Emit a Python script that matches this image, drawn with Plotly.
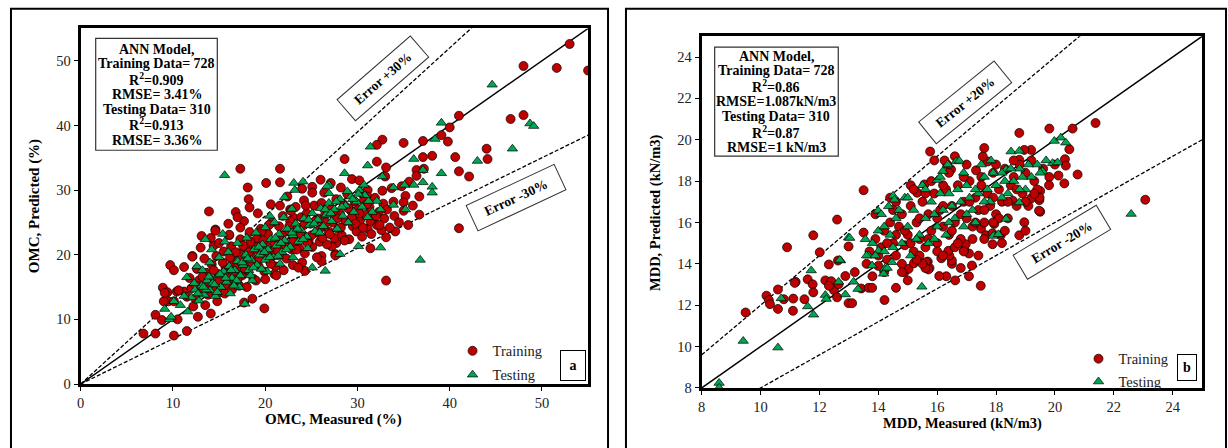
import plotly.graph_objects as go

W, H = 1228, 448

# ---------------- Panel (a): OMC ----------------
omc_train_x = [53.0, 48.0, 51.6, 55.0, 41.0, 46.6, 48.0, 40.0, 39.1, 39.8, 32.7, 32.1, 35.0, 37.1, 28.6, 32.1,
               37.1, 38.1, 40.6, 44.0, 44.1, 41.0, 42.1, 33.1, 36.4, 36.7, 36.7, 25.1, 25.1, 41.0, 33.1, 34.1,
               33.1, 31.4, 27.6, 27.7, 27.2, 26.1, 26.1, 24.3, 37.2, 36.4, 35.6, 34.8, 33.0, 33.7, 32.7, 35.2,
               35.0, 33.9, 32.8, 31.1, 31.1, 30.5, 29.4, 30.2, 17.3, 21.6, 20.1, 21.6, 18.1, 18.2, 18.3, 13.9,
               13.1, 12.1, 14.6, 14.4, 16.1, 17.7, 17.3, 21.6, 22.7, 23.1, 24.2, 27.1, 27.6, 9.7, 10.1, 11.2,
               8.9, 9.4, 9.5, 10.4, 11.2, 9.0, 10.1, 8.1, 6.8, 8.1, 8.8, 10.5, 10.1, 11.5, 12.7, 14.1,
               19.9, 9.1, 10.6, 12.1, 13.0, 14.1, 14.6, 16.1, 18.6, 17.7,
               11.5, 12.0, 12.4, 12.8, 13.0, 13.3, 13.6, 13.8, 14.0, 14.2, 14.5, 14.7, 14.9, 15.1, 15.3, 15.5,
               15.7, 15.9, 16.1, 16.3, 16.5, 16.7, 16.9, 17.1, 17.3, 17.5, 17.7, 17.9, 18.1, 18.3, 18.5, 18.7,
               18.9, 19.1, 19.3, 19.5, 19.7, 19.9, 20.1, 20.3, 20.5, 20.7, 20.9, 21.1, 21.3, 21.5, 21.7, 21.9,
               22.1, 22.3, 22.5, 22.7, 22.9, 23.1, 23.3, 23.5, 23.7, 23.9, 24.1, 24.3, 24.5, 24.7, 24.9, 25.1,
               25.3, 25.5, 25.7, 25.9, 26.1, 26.3, 26.5, 26.7, 26.9, 27.1, 27.3, 27.5, 27.7, 27.9, 28.1, 28.3,
               28.5, 28.7, 28.9, 29.1, 29.3, 29.5, 29.7, 29.9, 30.1, 30.3, 30.5, 30.7, 30.9, 31.1, 31.3, 31.5,
               31.7, 31.9, 32.1, 32.3, 32.6, 32.9, 33.2, 33.5, 34.0, 34.5, 35.0, 35.5, 36.0, 13.5, 14.8, 15.6,
               16.4, 17.2, 18.0, 19.0, 20.0, 21.0, 22.0, 23.0, 24.0, 12.2, 11.8, 12.6, 13.4, 15.0, 16.0, 16.8,
               17.0, 19.2, 20.6, 22.4, 24.0, 26.0, 28.2,
               12.5, 13.2, 13.9, 14.4, 15.0, 15.4, 15.8, 16.2, 16.6, 17.0, 17.4, 17.8, 18.2, 18.6, 19.0, 19.4,
               19.8, 20.2, 20.6, 21.0, 21.4, 21.8, 22.2, 22.6, 23.0, 23.4, 23.8, 24.2, 24.6, 25.0, 25.4, 25.8,
               26.2, 26.6, 27.0, 27.4, 27.8, 28.2, 28.6, 29.0, 29.4, 29.8, 30.2, 30.6, 31.0, 31.4, 32.0, 32.4,
               20.4, 19.6, 18.4, 17.6, 16.8, 22.8, 24.4, 26.4, 21.2, 23.6, 25.6]
omc_train_y = [52.6, 49.2, 48.9, 48.5, 41.5, 41.0, 41.6, 39.7, 38.5, 37.5, 37.8, 37.0, 37.3, 37.6, 34.8, 34.4,
               35.1, 35.3, 35.1, 36.4, 34.8, 32.9, 32.1, 33.5, 33.1, 29.0, 26.2, 30.5, 29.6, 24.1, 16.0, 23.6,
               22.7, 21.0, 20.1, 21.8, 21.3, 19.8, 19.0, 17.5, 33.3, 32.2, 31.3, 30.6, 32.1, 30.3, 29.9, 29.1,
               28.1, 28.2, 27.9, 30.0, 29.0, 29.5, 31.7, 31.5, 33.3, 33.3, 31.1, 31.2, 30.4, 28.6, 27.3, 26.7,
               22.9, 19.8, 23.9, 21.4, 23.0, 25.2, 24.2, 27.6, 27.0, 25.7, 28.4, 31.1, 19.9, 18.4, 17.6, 18.1,
               14.9, 14.2, 12.8, 14.3, 14.3, 12.8, 12.8, 10.7, 7.8, 7.8, 9.9, 10.0, 7.5, 8.2, 10.4, 10.9,
               11.7, 14.1, 14.5, 19.7, 21.1, 22.6, 23.7, 23.1, 13.2, 12.6,
               13.5, 14.8, 13.2, 16.0, 14.2, 15.5, 17.2, 13.8, 16.2, 18.5, 15.0, 19.8, 17.0, 14.2, 16.4, 20.5,
               18.0, 15.3, 17.2, 21.3, 19.0, 15.8, 18.0, 20.2, 22.4, 16.8, 19.0, 21.0, 17.6, 23.5, 19.6, 16.3,
               20.8, 22.5, 18.2, 24.0, 20.0, 17.4, 21.4, 23.2, 19.0, 25.0, 20.6, 18.2, 22.4, 24.4, 20.0, 26.0,
               21.6, 19.4, 23.6, 25.2, 20.8, 22.4, 27.4, 24.2, 21.0, 25.8, 23.0, 20.2, 26.4, 22.2, 24.8, 21.2,
               27.6, 23.4, 25.6, 22.0, 28.0, 24.4, 26.2, 21.6, 23.6, 27.0, 25.0, 22.6, 28.6, 24.0, 26.4, 23.0,
               27.8, 25.2, 29.4, 22.4, 26.8, 24.4, 28.2, 23.6, 27.0, 25.4, 22.8, 28.4, 26.2, 24.0, 27.4, 23.2,
               25.8, 28.8, 24.6, 26.6, 23.8, 25.6, 27.0, 24.2, 26.0, 25.0, 26.8, 24.6, 27.6, 12.2, 12.8, 14.0,
               14.6, 15.2, 15.0, 16.0, 16.2, 17.0, 17.6, 18.4, 18.8, 12.0, 16.4, 17.8, 19.4, 21.8, 24.8, 26.6,
               25.8, 26.4, 27.8, 29.0, 30.2, 31.6, 30.4,
               15.2, 16.6, 15.4, 17.6, 16.0, 18.8, 16.8, 19.6, 17.4, 16.2, 19.2, 17.8, 20.4, 18.4, 21.2, 19.4,
               22.2, 20.0, 18.6, 21.8, 20.6, 23.0, 21.2, 24.4, 22.0, 20.8, 23.2, 24.6, 21.8, 23.0, 25.2, 23.8,
               22.6, 25.0, 23.2, 26.2, 25.6, 24.2, 22.2, 27.2, 25.8, 24.8, 26.4, 24.2, 27.8, 25.2, 26.0, 24.6,
               24.6, 23.6, 22.0, 21.4, 20.4, 26.8, 27.6, 29.6, 16.8, 18.0, 19.6]

omc_test_x = [44.6, 39.1, 48.7, 49.1, 38.4, 31.4, 31.1, 36.1, 28.6, 46.8, 43.0, 39.1, 37.1, 37.1, 38.1, 38.1,
              36.1, 35.1, 33.9, 32.7, 26.9, 26.9, 30.1, 32.5, 36.8, 28.1, 26.5, 25.1, 35.2, 33.9, 32.5, 31.6,
              32.1, 31.2, 15.6, 23.1, 24.1, 23.2, 22.1, 26.7, 22.9, 20.5, 13.5, 15.6, 12.6, 11.5, 10.1, 9.1,
              9.6, 17.8,
              12.0, 12.4, 12.8, 13.1, 13.4, 13.7, 14.0, 14.3, 14.6, 14.9, 15.2, 15.5, 15.8, 16.1, 16.4, 16.7,
              17.0, 17.3, 17.6, 17.9, 18.2, 18.5, 18.8, 19.1, 19.4, 19.7, 20.0, 20.3, 20.6, 20.9, 21.2, 21.5,
              21.8, 22.1, 22.4, 22.7, 23.0, 23.3, 23.6, 23.9, 24.2, 24.5, 24.8, 25.1, 25.4, 25.7, 26.0, 26.3,
              26.6, 26.9, 27.2, 27.5, 27.8, 28.1, 28.4, 28.7, 29.0, 29.3, 29.6, 29.9, 30.2, 30.5, 30.8, 31.1,
              13.2, 14.0, 15.0, 16.0, 17.0, 18.0, 19.0, 20.0, 21.0, 22.0, 16.2, 17.2, 18.6, 20.2, 21.6, 23.0,
              24.6, 10.8, 11.2, 11.6, 9.8, 14.2, 15.4, 12.3, 13.6,
              12.7, 13.3, 13.9, 14.5, 15.1, 15.7, 16.3, 16.9, 17.5, 18.1, 18.7, 19.3, 19.9, 20.5, 21.1, 21.7,
              22.3, 22.9, 23.5, 24.1, 24.7, 25.3, 25.9, 26.5, 27.1, 27.7, 28.3, 28.9, 29.5, 30.1, 30.7, 14.8,
              16.6, 18.4, 19.6, 21.4]
omc_test_y = [46.3, 40.4, 40.3, 39.9, 37.9, 36.7, 33.8, 34.8, 32.6, 36.4, 34.5, 32.6, 33.1, 31.2, 30.5, 29.6,
              30.8, 30.8, 30.4, 32.1, 30.8, 29.5, 21.3, 21.1, 19.2, 20.1, 17.5, 18.0, 27.0, 27.7, 27.0, 26.6,
              28.3, 28.3, 32.3, 31.1, 31.3, 30.0, 28.9, 30.6, 27.1, 26.0, 22.4, 22.0, 18.2, 16.5, 12.8, 11.6,
              10.0, 12.4,
              13.4, 14.6, 12.9, 15.2, 13.8, 16.0, 14.5, 15.6, 13.6, 16.8, 15.0, 17.4, 15.8, 18.2, 16.4, 17.6,
              19.0, 16.8, 18.4, 20.0, 17.6, 19.2, 20.8, 18.4, 20.0, 21.6, 19.2, 20.8, 22.4, 19.6, 21.4, 23.2,
              20.4, 22.2, 24.0, 21.2, 23.0, 24.8, 22.0, 23.8, 25.6, 22.8, 24.6, 26.4, 23.6, 25.4, 27.2, 24.4,
              26.2, 28.0, 25.2, 27.0, 24.0, 28.6, 26.0, 27.6, 25.0, 29.0, 26.6, 28.2, 30.0, 27.4, 29.2, 25.8,
              17.6, 18.8, 19.6, 20.4, 21.8, 22.6, 23.4, 24.2, 25.0, 25.8, 14.0, 15.0, 16.0, 17.4, 18.6, 19.6,
              21.0, 12.2, 13.6, 11.2, 10.4, 20.8, 23.2, 15.6, 14.6,
              14.0, 15.0, 16.6, 15.4, 17.0, 16.4, 17.6, 16.0, 18.8, 19.4, 18.0, 21.2, 20.4, 19.6, 22.6, 21.8,
              20.8, 23.4, 24.0, 22.4, 25.4, 24.8, 23.4, 27.0, 26.4, 28.2, 27.4, 29.8, 28.6, 29.4, 30.8, 14.2,
              15.2, 16.8, 17.8, 19.8]

# ---------------- Panel (b): MDD ----------------
mdd_train_x = [9.49, 10.2, 10.28, 10.32, 10.59, 10.59, 11.1, 10.79, 11.19, 11.49, 10.9, 11.79, 12.01, 11.6, 11.77,
               11.79, 12.32, 12.2, 12.4, 12.49, 12.6, 12.32, 12.65, 12.63, 12.88, 12.99, 12.99, 13.11, 13.2,
               13.42, 13.67, 13.79, 14.21, 14.6, 14.89, 15.03, 13.5, 12.6, 13.5, 15.76, 15.1, 16.34, 15.57,
               15.32, 15.21, 15.68, 15.74, 11.11, 11.16, 16.14, 16.31, 18.79, 19.81, 20.6, 20.77, 20.32, 20.12,
               19.81, 20.34, 20.37, 20.49, 18.79, 19.19, 18.96, 19.5, 19.5, 19.47, 18.79, 19.19, 18.96, 18.57,
               17.94, 17.49, 17.66, 17.72, 17.55, 17.32, 16.47, 16.25, 17.88, 18.16, 17.48, 17.08, 16.61, 16.07,
               17.18, 16.5, 16.5, 16.41, 16.38, 17.08, 16.92, 16.97, 15.62, 15.7, 17.88, 21.38, 23.07, 19.48,
               19.46,
               13.7, 13.9, 14.0, 14.1, 14.2, 14.3, 14.4, 14.5, 14.6, 14.7, 14.8, 14.9, 15.0, 15.1, 15.2, 15.3,
               15.4, 15.5, 15.6, 15.7, 15.8, 15.9, 16.0, 16.1, 16.2, 16.3, 16.4, 16.5, 16.6, 16.7, 16.8, 16.9,
               17.0, 17.1, 17.2, 17.3, 17.4, 17.5, 17.6, 17.7, 17.8, 17.9, 18.0, 18.1, 18.2, 18.3, 18.4, 18.5,
               18.6, 18.7, 18.8, 18.9, 19.0, 19.1, 19.2, 19.3, 19.4, 19.6, 19.8, 20.0, 14.2, 14.8, 15.4, 16.0,
               16.6, 17.2, 14.6, 15.2, 15.8, 16.4, 17.0, 13.6, 13.8, 15.0, 15.6, 16.8, 17.4, 18.2, 19.0, 14.4,
               13.9, 15.9, 16.6, 17.6,
               14.0, 14.3, 14.6, 14.9, 15.1, 15.4, 15.7, 16.0, 16.2, 16.5, 16.8, 17.1, 17.3, 17.6, 17.9, 18.1,
               18.4, 18.7, 19.0, 19.3, 15.6, 16.2, 16.9, 17.5, 18.0, 18.6, 14.8, 15.5, 16.2, 16.9, 17.6, 18.3,
               14.5, 15.3, 16.7, 17.9]
mdd_train_y = [11.65, 12.46, 12.25, 12.05, 11.82, 12.76, 11.73, 12.29, 13.13, 12.29, 14.8, 15.38, 14.56, 13.25, 13.01,
               12.62, 13.97, 13.2, 13.16, 12.73, 12.38, 12.94, 13.01, 14.16, 13.41, 14.84, 12.1, 12.1, 13.6,
               12.81, 12.84, 12.84, 12.25, 12.84, 13.6, 13.76, 15.51, 16.14, 17.56, 19.43, 17.8, 18.8, 17.84,
               17.44, 14.03, 14.11, 13.8, 12.32, 13.08, 14.27, 13.4, 20.33, 20.54, 20.54, 18.32, 17.89, 18.27,
               18.2, 19.06, 18.75, 19.54, 19.03, 19.51, 19.51, 17.52, 16.52, 17.08, 15.38, 17.16, 16.01, 17.05,
               15.93, 15.7, 15.38, 18.95, 19.19, 18.52, 18.56, 19.0, 14.95, 15.38, 12.94, 13.4, 13.2, 13.41,
               13.92, 14.0, 14.16, 14.4, 14.63, 14.5, 14.67, 14.95, 14.08, 13.73, 15.48, 20.81, 17.1, 17.2,
               16.57,
               14.6, 15.2, 13.9, 14.8, 15.6, 14.2, 16.0, 15.0, 14.4, 15.8, 16.4, 14.9, 15.4, 16.8, 14.6, 16.0,
               15.2, 17.0, 14.8, 16.4, 15.6, 17.4, 15.0, 16.6, 15.8, 17.6, 15.4, 16.8, 16.0, 17.8, 15.2, 17.0,
               16.2, 18.0, 15.8, 17.2, 16.6, 18.2, 16.0, 17.4, 16.8, 18.4, 16.4, 17.6, 17.0, 18.6, 16.2, 17.8,
               18.2, 16.8, 18.8, 17.4, 18.4, 16.8, 19.0, 18.0, 17.6, 18.6, 17.8, 18.8, 13.6, 14.0, 14.4, 14.6,
               14.8, 15.2, 17.0, 17.6, 18.0, 18.4, 18.8, 14.0, 13.4, 13.2, 13.8, 13.8, 14.4, 15.0, 15.6, 17.2,
               16.4, 19.0, 19.2, 19.6,
               14.4, 15.0, 15.4, 15.6, 15.0, 16.2, 15.2, 16.2, 16.8, 15.6, 16.4, 17.0, 16.0, 16.6, 17.2, 16.2,
               17.0, 17.6, 17.0, 17.4, 17.4, 17.8, 18.2, 17.8, 18.8, 19.0, 13.6, 14.0, 14.4, 14.6, 15.2, 15.6,
               16.6, 14.2, 15.0, 16.0]

mdd_test_x = [8.59, 8.59, 9.41, 10.59, 10.7, 11.72, 11.6, 11.8, 12.2, 12.23, 12.65, 12.72, 12.88, 12.99, 13.16,
              13.31, 15.48, 13.79, 13.67, 14.01, 14.21, 14.46, 14.18, 13.56, 14.5, 14.55, 14.35, 13.99, 13.03,
              12.69, 16.19, 16.0, 18.51, 18.79, 19.98, 20.2, 20.37, 19.92, 20.09, 19.58, 18.79, 18.34, 17.94,
              16.64, 16.36, 17.83, 18.34, 17.9, 18.08, 22.59, 16.75,
              13.8, 14.0, 14.2, 14.4, 14.6, 14.8, 15.0, 15.2, 15.4, 15.6, 15.8, 16.0, 16.2, 16.4, 16.6, 16.8,
              17.0, 17.2, 17.4, 17.6, 17.8, 18.0, 18.2, 18.4, 18.6, 18.8, 19.0, 19.2, 19.4, 14.1, 14.9, 15.5,
              16.1, 16.9, 17.5, 15.1, 15.7, 16.3, 16.9, 17.3, 13.6, 14.3, 15.9, 16.5, 17.1, 17.7, 18.3, 18.9,
              19.5,
              14.5, 14.7, 15.3, 15.9, 16.1, 16.7, 17.3, 17.9, 18.5, 19.1, 19.7, 15.0, 15.6, 16.4, 17.0, 17.6,
              18.2, 18.8, 14.2, 13.9]
mdd_test_y = [8.24, 8.01, 10.27, 9.95, 12.33, 13.68, 11.94, 11.54, 12.49, 12.3, 13.13, 14.16, 12.52, 15.27, 13.13,
              12.78, 12.89, 13.92, 14.4, 14.63, 13.76, 14.08, 13.52, 15.19, 17.29, 17.1, 16.78, 16.57, 15.25,
              14.19, 18.48, 18.05, 19.43, 19.46, 19.94, 20.1, 19.86, 18.87, 18.9, 18.48, 16.97, 16.17, 15.38,
              18.95, 18.8, 19.0, 18.56, 15.35, 15.43, 16.41, 18.98,
              15.0, 15.6, 14.6, 15.4, 16.2, 15.0, 15.8, 16.6, 15.4, 16.2, 17.0, 15.8, 16.6, 17.4, 16.2, 17.0,
              17.8, 16.6, 17.4, 18.2, 17.0, 17.8, 18.4, 17.4, 18.0, 18.6, 17.6, 18.2, 18.8, 16.4, 17.2, 17.8,
              18.2, 18.4, 18.8, 14.4, 15.0, 15.4, 15.8, 16.0, 14.4, 13.8, 16.4, 16.8, 17.2, 17.6, 18.0, 18.2,
              18.4,
              14.8, 16.6, 15.2, 15.2, 17.4, 17.6, 17.6, 18.4, 18.6, 18.8, 19.0, 17.2, 17.6, 16.0, 16.4, 17.0,
              17.2, 17.6, 15.8, 14.4]

# reference lines: 1:1 and error bands
omc_range = [0, 55]
mdd_range = [8, 25]
omc_band = [1.3, 0.7]
mdd_band = [1.2, 0.8]

RED = "#C00000"
GREEN = "#00A651"
SERIF = "Liberation Serif"


def px_x(p):
    return p / W


def px_y(p):
    return 1 - p / H


fig = go.Figure()


def add_panel(xa, ya, rng, band, trx, tr_y, tex, tey, legend):
    x0, x1 = rng
    fig.add_trace(go.Scatter(x=[x0, x1], y=[x0, x1], mode="lines", line=dict(color="black", width=1.5),
                             xaxis=xa, yaxis=ya, showlegend=False, hoverinfo="skip"))
    for k in band:
        fig.add_trace(go.Scatter(x=[x0, x1], y=[x0 * k, x1 * k], mode="lines",
                                 line=dict(color="black", width=1.3, dash="4px,2px"),
                                 xaxis=xa, yaxis=ya, showlegend=False, hoverinfo="skip"))
    fig.add_trace(go.Scatter(x=trx, y=tr_y, mode="markers", name="Training",
                             marker=dict(symbol="circle", size=9, color=RED, line=dict(color="black", width=0.7)),
                             xaxis=xa, yaxis=ya, legend=legend, legendgroup=legend + "a"))
    fig.add_trace(go.Scatter(x=tex, y=tey, mode="markers", name="Testing",
                             marker=dict(symbol="triangle-up", size=9, color=GREEN,
                                         line=dict(color="black", width=0.7)),
                             xaxis=xa, yaxis=ya, legend=legend, legendgroup=legend + "b"))


add_panel("x", "y", omc_range, omc_band, omc_train_x, omc_train_y, omc_test_x, omc_test_y, "legend")
add_panel("x2", "y2", mdd_range, mdd_band, mdd_train_x, mdd_train_y, mdd_test_x, mdd_test_y, "legend2")

axis_common = dict(showgrid=False, zeroline=False, showline=True, linecolor="black", linewidth=3,
                   mirror=True, ticks="outside", ticklen=4, tickwidth=1, tickcolor="black",
                   tickfont=dict(family=SERIF, size=14.5, color="#222"))

fig.update_layout(
    width=W, height=H, autosize=False,
    margin=dict(l=0, r=0, t=0, b=0),
    paper_bgcolor="white", plot_bgcolor="white",
    xaxis=dict(domain=[px_x(77), px_x(586)], range=[0, 55], dtick=10, anchor="y", **axis_common),
    yaxis=dict(domain=[px_y(391), px_y(29)], range=[0, 55], dtick=10, anchor="x", **axis_common),
    xaxis2=dict(domain=[px_x(700), px_x(1202)], range=[8, 25], dtick=2, anchor="y2", **axis_common),
    yaxis2=dict(domain=[px_y(395), px_y(37)], range=[8, 25], dtick=2, anchor="x2", **axis_common),
    legend=dict(x=px_x(450), y=px_y(341), xanchor="left", yanchor="top", bgcolor="rgba(0,0,0,0)",
                font=dict(family=SERIF, size=14.5, color="#222"), tracegroupgap=2, itemwidth=30),
    legend2=dict(x=px_x(1078), y=px_y(349), xanchor="left", yanchor="top", bgcolor="rgba(0,0,0,0)",
                 font=dict(family=SERIF, size=14.5, color="#222"), tracegroupgap=1, itemwidth=30),
    showlegend=True,
)

shapes = [
    dict(type="rect", xref="paper", yref="paper", x0=px_x(7), x1=px_x(606), y0=-0.2, y1=px_y(9),
         line=dict(color="black", width=2)),
    dict(type="rect", xref="paper", yref="paper", x0=px_x(624), x1=px_x(1226), y0=-0.2, y1=px_y(9),
         line=dict(color="black", width=2)),
    # info boxes
    dict(type="rect", xref="paper", yref="paper", x0=px_x(92), x1=px_x(214), y0=px_y(153), y1=px_y(39),
         line=dict(color="#333", width=1.2), fillcolor="white"),
    dict(type="rect", xref="paper", yref="paper", x0=px_x(713), x1=px_x(837), y0=px_y(159), y1=px_y(48),
         line=dict(color="#333", width=1.2), fillcolor="white"),
]
fig.update_layout(shapes=shapes)

ann = []
bold = dict(family=SERIF, size=15, color="black")
info_font = dict(family=SERIF, size=14, color="black")

info_a = ["ANN Model,", "Training Data= 728", "R<sup>2</sup>=0.909", "RMSE= 3.41%",
          "Testing Data= 310", "R<sup>2</sup>=0.913", "RMSE= 3.36%"]
info_b = ["ANN Model,", "Training Data= 728", "R<sup>2</sup>=0.86", "RMSE=1.087kN/m3",
          "Testing Data= 310", "R<sup>2</sup>=0.87", "RMSE=1 kN/m3"]
ya_lines = [50, 65, 80, 96.5, 111.5, 126.5, 143]
yb_lines = [57.3, 72, 87.5, 103.3, 118.3, 134, 150]
for t, yy in zip(info_a, ya_lines):
    ann.append(dict(xref="paper", yref="paper", x=px_x(153), y=px_y(yy), text="<b>" + t + "</b>",
                    showarrow=False, font=info_font, xanchor="center", yanchor="middle"))
for t, yy in zip(info_b, yb_lines):
    ann.append(dict(xref="paper", yref="paper", x=px_x(775), y=px_y(yy), text="<b>" + t + "</b>",
                    showarrow=False, font=info_font, xanchor="center", yanchor="middle"))

# axis titles
ann += [
    dict(xref="paper", yref="paper", x=px_x(331), y=px_y(427), text="<b>OMC, Measured (%)</b>",
         showarrow=False, font=bold, xanchor="center", yanchor="middle"),
    dict(xref="paper", yref="paper", x=px_x(30), y=px_y(210), text="<b>OMC, Predicted (%)</b>",
         showarrow=False, font=bold, textangle=-90, xanchor="center", yanchor="middle"),
    dict(xref="paper", yref="paper", x=px_x(962), y=px_y(431), text="<b>MDD, Measured (kN/m3)</b>",
         showarrow=False, font=dict(family=SERIF, size=14.5, color="black"), xanchor="center", yanchor="middle"),
    dict(xref="paper", yref="paper", x=px_x(653), y=px_y(216), text="<b>MDD, Predicted (kN/m3)</b>",
         showarrow=False, font=dict(family=SERIF, size=14.5, color="black"), textangle=-90,
         xanchor="center", yanchor="middle"),
]

# error labels (rotated boxes)
err = [("Error +30%", 380, 80, -41), ("Error -30%", 514, 201, -25),
       ("Error +20%", 964, 104, -39), ("Error -20%", 1061, 247, -31)]
for t, cx, cy, ang in err:
    ann.append(dict(xref="paper", yref="paper", x=px_x(cx), y=px_y(cy), text="<b>" + t + "</b>",
                    showarrow=False, font=dict(family=SERIF, size=13.5, color="black"), textangle=ang,
                    bordercolor="#333", borderwidth=1, borderpad=5, width=86, height=17,
                    bgcolor="white", xanchor="center", yanchor="middle"))

# panel letters
ann.append(dict(xref="paper", yref="paper", x=px_x(571), y=px_y(372.5), text="<b>a</b>", showarrow=False,
                font=dict(family=SERIF, size=14, color="black"), bordercolor="black", borderwidth=1,
                width=24, height=29, borderpad=0, xanchor="center", yanchor="middle"))
ann.append(dict(xref="paper", yref="paper", x=px_x(1187), y=px_y(374.5), text="<b>b</b>", showarrow=False,
                font=dict(family=SERIF, size=14, color="black"), bordercolor="black", borderwidth=1,
                width=18, height=25, borderpad=0, xanchor="center", yanchor="middle"))

fig.update_layout(annotations=ann)

fig.write_html("out.html")
